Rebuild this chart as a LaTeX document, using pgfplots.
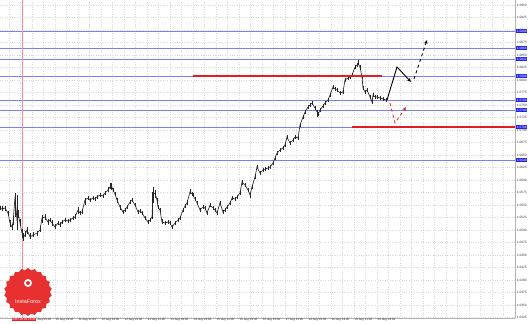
\documentclass[border=0pt]{standalone}
\usepackage{pgfplots}
\pgfplotsset{compat=1.18}
\usepackage{pgfplotstable}
\usepackage{fontspec}
\setmainfont{Liberation Sans}
\usetikzlibrary{arrows.meta,shapes.geometric}

\definecolor{lvl}{RGB}{125,125,245}
\definecolor{lvlred}{RGB}{225,30,35}
\definecolor{boxblue}{RGB}{35,35,240}
\definecolor{logored}{RGB}{232,48,48}

\pgfplotstableread{
x y em ep
0 1.0544 0.0004 0.0004
2 1.0542 0.0004 0.0006
5 1.0544 0.0006 0.0004
8 1.0534 0.0006 0.0004
10 1.0514 0.0008 0.0006
12 1.0506 0.0006 0.0006
13 1.0514 0.0004 0.0010
15 1.0566 0.0040 0.0008
17 1.0520 0.0020 0.0050
18 1.0534 0.0010 0.0006
20 1.0514 0.0006 0.0008
22 1.0494 0.0010 0.0008
23 1.0484 0.0006 0.0010
25 1.0490 0.0004 0.0008
27 1.0500 0.0008 0.0006
30 1.0486 0.0004 0.0008
33 1.0490 0.0004 0.0006
37 1.0494 0.0006 0.0004
40 1.0500 0.0004 0.0008
42 1.0524 0.0010 0.0006
45 1.0526 0.0006 0.0006
48 1.0516 0.0006 0.0006
50 1.0520 0.0004 0.0004
52 1.0514 0.0006 0.0006
55 1.0506 0.0004 0.0006
58 1.0514 0.0004 0.0004
60 1.0510 0.0004 0.0006
62 1.0516 0.0004 0.0004
65 1.0520 0.0004 0.0004
68 1.0518 0.0004 0.0004
70 1.0520 0.0004 0.0004
73 1.0524 0.0004 0.0004
75 1.0526 0.0004 0.0006
78 1.0540 0.0008 0.0006
80 1.0534 0.0004 0.0004
82 1.0536 0.0004 0.0006
85 1.0560 0.0010 0.0004
88 1.0564 0.0004 0.0004
90 1.0560 0.0004 0.0004
93 1.0564 0.0004 0.0004
95 1.0562 0.0004 0.0004
97 1.0566 0.0004 0.0004
100 1.0570 0.0004 0.0004
103 1.0568 0.0004 0.0004
105 1.0574 0.0004 0.0004
108 1.0580 0.0004 0.0006
110 1.0586 0.0004 0.0008
111 1.0590 0.0010 0.0004
113 1.0580 0.0004 0.0004
115 1.0572 0.0004 0.0004
117 1.0560 0.0006 0.0004
120 1.0546 0.0006 0.0004
123 1.0536 0.0004 0.0004
125 1.0540 0.0004 0.0004
127 1.0546 0.0004 0.0004
130 1.0556 0.0004 0.0004
132 1.0560 0.0004 0.0004
135 1.0550 0.0004 0.0004
138 1.0536 0.0004 0.0004
140 1.0538 0.0004 0.0004
142 1.0534 0.0004 0.0004
145 1.0524 0.0004 0.0004
148 1.0516 0.0004 0.0004
150 1.0520 0.0004 0.0004
152 1.0526 0.0004 0.0050
153 1.0570 0.0016 0.0016
155 1.0574 0.0010 0.0006
157 1.0560 0.0006 0.0004
158 1.0546 0.0004 0.0004
160 1.0540 0.0004 0.0004
162 1.0516 0.0004 0.0006
165 1.0514 0.0004 0.0004
168 1.0516 0.0004 0.0004
170 1.0514 0.0004 0.0004
172 1.0506 0.0004 0.0004
175 1.0514 0.0004 0.0004
178 1.0520 0.0004 0.0004
180 1.0524 0.0004 0.0004
183 1.0540 0.0004 0.0004
185 1.0548 0.0004 0.0004
187 1.0554 0.0004 0.0006
190 1.0576 0.0004 0.0006
192 1.0572 0.0004 0.0004
193 1.0570 0.0004 0.0004
195 1.0562 0.0004 0.0004
197 1.0554 0.0004 0.0004
200 1.0540 0.0004 0.0004
203 1.0546 0.0004 0.0004
205 1.0544 0.0004 0.0004
207 1.0534 0.0004 0.0004
210 1.0550 0.0004 0.0004
213 1.0544 0.0004 0.0004
215 1.0540 0.0004 0.0004
217 1.0534 0.0004 0.0004
220 1.0554 0.0004 0.0004
223 1.0536 0.0004 0.0004
225 1.0540 0.0004 0.0004
227 1.0546 0.0004 0.0004
230 1.0554 0.0004 0.0004
232 1.0564 0.0004 0.0004
235 1.0562 0.0004 0.0004
237 1.0566 0.0004 0.0004
240 1.0574 0.0004 0.0004
242 1.0596 0.0006 0.0004
245 1.0590 0.0004 0.0004
248 1.0580 0.0004 0.0004
250 1.0570 0.0006 0.0004
252 1.0586 0.0004 0.0004
255 1.0606 0.0004 0.0004
257 1.0626 0.0004 0.0004
260 1.0614 0.0004 0.0004
263 1.0620 0.0004 0.0004
265 1.0622 0.0004 0.0004
268 1.0624 0.0004 0.0004
270 1.0626 0.0004 0.0004
273 1.0634 0.0004 0.0004
275 1.0644 0.0004 0.0004
277 1.0654 0.0004 0.0004
280 1.0660 0.0004 0.0004
283 1.0664 0.0004 0.0004
285 1.0670 0.0004 0.0004
287 1.0686 0.0004 0.0004
290 1.0674 0.0004 0.0004
293 1.0680 0.0004 0.0004
295 1.0686 0.0004 0.0004
298 1.0684 0.0004 0.0004
300 1.0710 0.0004 0.0004
303 1.0726 0.0004 0.0004
305 1.0736 0.0004 0.0004
308 1.0746 0.0004 0.0004
310 1.0750 0.0004 0.0004
312 1.0754 0.0004 0.0004
315 1.0744 0.0004 0.0004
317 1.0736 0.0010 0.0004
318 1.0732 0.0004 0.0004
320 1.0740 0.0004 0.0004
323 1.0748 0.0004 0.0004
325 1.0754 0.0004 0.0004
328 1.0760 0.0004 0.0004
330 1.0770 0.0004 0.0004
333 1.0786 0.0004 0.0004
335 1.0782 0.0004 0.0004
337 1.0780 0.0004 0.0004
340 1.0774 0.0004 0.0004
343 1.0776 0.0004 0.0004
345 1.0800 0.0004 0.0004
348 1.0804 0.0004 0.0004
350 1.0806 0.0004 0.0004
352 1.0810 0.0004 0.0004
355 1.0826 0.0004 0.0004
357 1.0830 0.0004 0.0004
358 1.0834 0.0004 0.0006
360 1.0826 0.0004 0.0004
362 1.0806 0.0004 0.0004
363 1.0784 0.0004 0.0004
365 1.0776 0.0004 0.0004
367 1.0780 0.0004 0.0004
370 1.0766 0.0004 0.0004
372 1.0756 0.0004 0.0004
373 1.0770 0.0004 0.0004
375 1.0766 0.0004 0.0004
377 1.0766 0.0004 0.0004
380 1.0764 0.0004 0.0004
383 1.0762 0.0004 0.0004
386 1.0760 0.0004 0.0004
}\price

\begin{document}
\begin{tikzpicture}
\useasboundingbox (0,0) rectangle (532bp,324bp);
\begin{axis}[
  at={(0bp,6bp)}, anchor=south west,
  width=515bp, height=318bp, scale only axis,
  xmin=0, xmax=515, ymin=1.0324, ymax=1.0960,
  clip=false,
  axis x line*=bottom, axis y line*=right,
  axis line style={gray!60, line width=0.8pt},
  xtick={9,32,...,515},
  minor x tick num=1,
  xticklabels={,,10 Aug 19:00,11 Aug 11:00,12 Aug 03:00,12 Aug 19:00,13 Aug 11:00,14 Aug 03:00,14 Aug 19:00,15 Aug 11:00,16 Aug 03:00,16 Aug 19:00,17 Aug 11:00,18 Aug 03:00,18 Aug 19:00,19 Aug 11:00,20 Aug 03:00,,,,,,},
  ytick distance=0.0025,
  scaled y ticks=false,
  grid=both,
  major grid style={gray!30, dotted, line width=0.45pt},
  minor grid style={gray!30, dotted, line width=0.45pt},
  major tick length=0pt, minor tick length=0pt,
  xticklabel style={anchor=north west, font=\fontsize{3}{3.5}\selectfont, inner sep=0.4pt, text=black!80},
  yticklabel style={anchor=west, font=\fontsize{3.2}{3.6}\selectfont, inner sep=0.5pt, xshift=1.2bp, text=black!80,
    /pgf/number format/fixed, /pgf/number format/fixed zerofill, /pgf/number format/precision=4, /pgf/number format/assume math mode=true},
  extra y ticks={1.0898,1.0864,1.0842,1.0808,1.0760,1.0740,1.0706,1.0640},
  extra y tick style={grid=none, yticklabel style={fill=boxblue, text=white, inner sep=0.5pt}},
]
% horizontal levels
\addplot[lvl, line width=0.9pt] coordinates {(0,1.0898) (515,1.0898)};
\addplot[lvl, line width=0.9pt] coordinates {(0,1.0864) (515,1.0864)};
\addplot[lvl, line width=0.9pt] coordinates {(0,1.0842) (515,1.0842)};
\addplot[lvl, line width=0.9pt] coordinates {(0,1.0808) (515,1.0808)};
\addplot[lvl, line width=0.9pt] coordinates {(0,1.0760) (515,1.0760)};
\addplot[lvl, line width=0.9pt] coordinates {(0,1.0740) (515,1.0740)};
\addplot[lvl, line width=0.9pt] coordinates {(0,1.0706) (515,1.0706)};
\addplot[lvl, line width=0.9pt] coordinates {(0,1.0640) (515,1.0640)};
% vertical marker line
\addplot[red!45, line width=0.8pt] coordinates {(22,1.0324) (22,1.0960)};
% price
\addplot[black!85, line width=0.65pt, mark=none,
  error bars/.cd, y dir=both, y explicit, error mark=none,
  error bar style={black!85, line width=0.55pt}]
  table[x=x, y=y, y error plus=ep, y error minus=em] {\price};
% red levels
\addplot[lvlred, line width=1.2pt] coordinates {(193,1.0808) (382,1.0808)};
\addplot[lvlred, line width=1.2pt] coordinates {(352,1.0706) (515,1.0706)};
% forecast arrows
\addplot[black, line width=0.9pt, -{Stealth[length=4bp,width=3.5bp]}] coordinates {(387,1.0760) (397,1.0826) (411,1.0796)};
\addplot[black, line width=0.9pt, dashed, -{Stealth[length=4bp,width=3.5bp]}] coordinates {(414,1.0802) (427,1.0880)};
\addplot[lvlred, line width=0.8pt, dashed, -{Stealth[length=4bp,width=3.5bp]}] coordinates {(390,1.0754) (395,1.0714) (406,1.0746)};
% date highlight
\node[fill=lvlred, text=white, font=\fontsize{3}{3.5}\selectfont, inner sep=0.5pt, anchor=north] at (axis cs:24,1.0324) {2023.08.09 20:00};
\node[anchor=north west, font=\fontsize{3}{3.5}\selectfont, inner sep=0.4pt, text=black!80] at (axis cs:37,1.0324) {Aug 03:00};
% logo
\node[star, star points=22, star point ratio=1.1, fill=logored, minimum size=48bp, inner sep=0pt] at (axis cs:28,1.0376) {};
\node[circle, fill=white, minimum size=8bp, inner sep=0pt] at (axis cs:28,1.0394) {};
\node[circle, fill=logored, minimum size=4bp, inner sep=0pt] at (axis cs:28,1.0394) {};
\node[text=white, font=\fontsize{5.5}{6}\selectfont, inner sep=0pt] at (axis cs:28,1.0357) {InstaForex};
\end{axis}
\end{tikzpicture}
\end{document}
